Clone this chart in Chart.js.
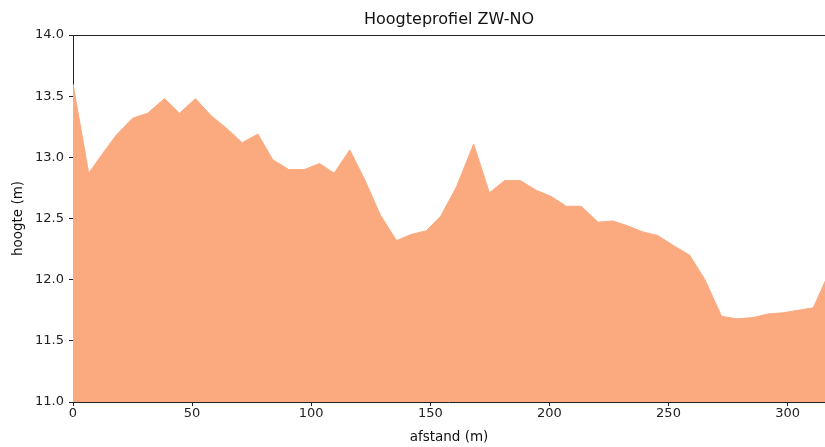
<!DOCTYPE html>
<html>
<head>
<meta charset="utf-8">
<script src="https://cdn.jsdelivr.net/npm/chart.js@4/dist/chart.umd.min.js"></script>
<style>
  html, body { margin: 0; padding: 0; background: #fff; overflow: hidden; }
  #wrap { position: relative; width: 825px; height: 447px; }
</style>
</head>
<body>
<div id="wrap"><canvas id="profielChart"></canvas></div>
<script>
// afstand (m) langs het profiel en de gemeten hoogte (m)
const afstand = [
  0, 6.6, 12.4, 18.1, 25.0, 31.3, 38.4, 44.7, 51.4, 58.0,
  64.3, 71.0, 77.6, 83.9, 90.6, 97.2, 103.5, 109.6, 116.2, 122.4,
  129.0, 135.8, 142.0, 148.3, 154.4, 161.0, 168.2, 174.8, 181.2, 187.8,
  194.5, 200.8, 207.1, 213.4, 220.4, 226.7, 232.8, 239.3, 245.6, 252.0,
  258.9, 265.3, 272.3, 278.6, 285.5, 291.8, 298.2, 304.5, 310.8, 317.2,
];
const hoogte = [
  13.60, 12.87, 13.03, 13.18, 13.32, 13.36, 13.48, 13.36, 13.48, 13.34,
  13.24, 13.12, 13.19, 12.98, 12.90, 12.90, 12.95, 12.87, 13.06, 12.82,
  12.53, 12.32, 12.37, 12.40, 12.52, 12.76, 13.11, 12.71, 12.81, 12.81,
  12.73, 12.68, 12.60, 12.60, 12.47, 12.48, 12.44, 12.39, 12.36, 12.28,
  12.20, 12.00, 11.70, 11.68, 11.69, 11.72, 11.73, 11.75, 11.77, 12.05,
];
const xTicks = [0, 50, 100, 150, 200, 250, 300];
const yTicks = [11.0, 11.5, 12.0, 12.5, 13.0, 13.5, 14.0];

const font = "'DejaVu Sans', sans-serif";
const fill = "#fbaa80";

// top spine like matplotlib
const topSpine = {
  id: "topSpine",
  afterDraw(chart) {
    const { ctx, chartArea } = chart;
    ctx.save();
    ctx.strokeStyle = "#222";
    ctx.lineWidth = 1;
    ctx.beginPath();
    ctx.moveTo(chartArea.left, chartArea.top + 0.5);
    ctx.lineTo(chartArea.right, chartArea.top + 0.5);
    ctx.stroke();
    ctx.restore();
  },
};

const ctx = document.getElementById("profielChart").getContext("2d");
new Chart(ctx, {
  type: "line",
  data: {
    datasets: [
      {
        label: "hoogte",
        data: afstand.map((x, i) => ({ x: x, y: hoogte[i] })),
        borderColor: fill,
        backgroundColor: fill,
        borderWidth: 1,
        pointRadius: 0,
        tension: 0,
        fill: "start",
      },
    ],
  },
  options: {
    responsive: true,
    maintainAspectRatio: false,
    animation: false,
    layout: { padding: 0 },
    plugins: {
      legend: { display: false },
      tooltip: { enabled: false },
      title: {
        display: true,
        text: "Hoogteprofiel ZW-NO",
        color: "#111",
        fullSize: false,
        font: { family: font, size: 16, weight: "normal" },
        padding: { top: 10.5, bottom: 5.3 },
      },
    },
    scales: {
      x: {
        type: "linear",
        min: 0,
        max: 315.7,
        afterBuildTicks: (s) => {
          s.ticks = xTicks.map((v) => ({ value: v }));
        },
        afterFit: (s) => { s.height = 45; },
        ticks: {
          color: "#222",
          font: { family: font, size: 13 },
          padding: 0,
          maxRotation: 0,
          callback: (v) => String(v),
        },
        grid: { display: true, drawOnChartArea: false, drawTicks: true, tickLength: 4, color: "#222" },
        border: { display: true, color: "#222", width: 1 },
        title: {
          display: true,
          text: "afstand (m)",
          color: "#111",
          font: { family: font, size: 13.5 },
          padding: { top: 0, bottom: 1 },
        },
      },
      y: {
        min: 11,
        max: 14,
        afterBuildTicks: (s) => {
          s.ticks = yTicks.map((v) => ({ value: v }));
        },
        afterFit: (s) => { s.width = 73; },
        ticks: {
          color: "#222",
          font: { family: font, size: 13 },
          padding: 5,
          callback: (v) => Number(v).toFixed(1),
        },
        grid: { display: true, drawOnChartArea: false, drawTicks: true, tickLength: 4, color: "#222" },
        border: { display: true, color: "#222", width: 1 },
        title: {
          display: true,
          text: "hoogte (m)",
          color: "#111",
          font: { family: font, size: 13.5 },
          padding: { top: 10, bottom: 0 },
        },
      },
    },
  },
  plugins: [topSpine],
});
</script>
</body>
</html>
